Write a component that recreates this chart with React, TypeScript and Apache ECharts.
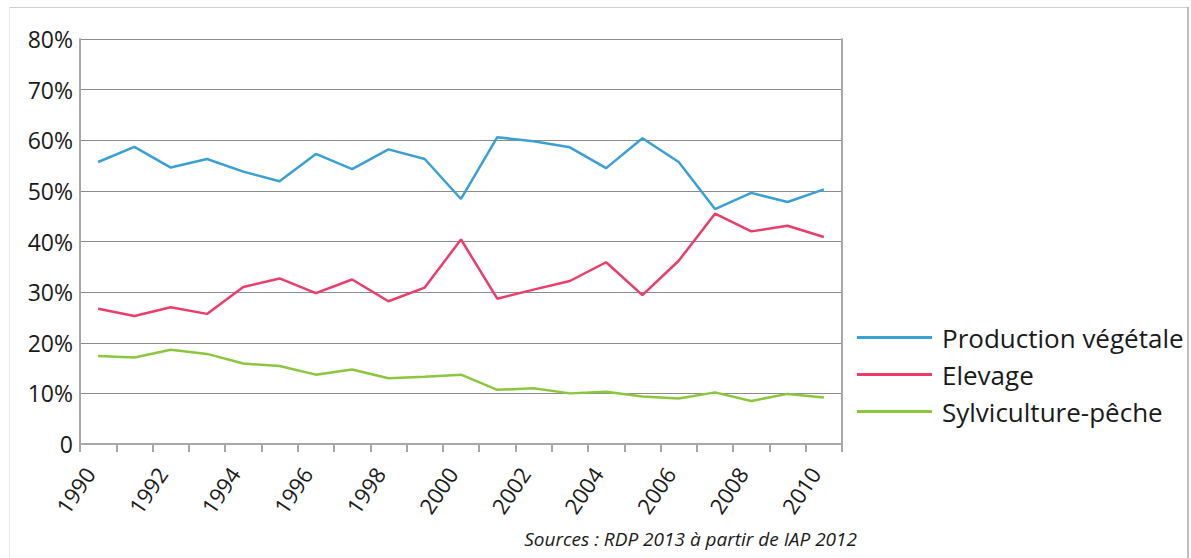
import React, { useEffect, useRef } from "react";
import * as echarts from "echarts";

const years = [
  "1990", "1991", "1992", "1993", "1994", "1995", "1996", "1997", "1998", "1999", "2000",
  "2001", "2002", "2003", "2004", "2005", "2006", "2007", "2008", "2009", "2010",
];
const productionVegetale = [
  55.7, 58.7, 54.6, 56.3, 53.8, 51.9, 57.3, 54.3, 58.2, 56.3, 48.4,
  60.6, 59.8, 58.6, 54.5, 60.4, 55.7, 46.4, 49.6, 47.8, 50.3,
];
const elevage = [
  26.7, 25.3, 27.0, 25.7, 31.0, 32.7, 29.8, 32.5, 28.2, 30.9, 40.4,
  28.7, 30.5, 32.2, 35.9, 29.4, 36.2, 45.5, 42.0, 43.1, 40.9,
];
const sylviculturePeche = [
  17.4, 17.1, 18.6, 17.8, 15.9, 15.4, 13.7, 14.7, 13.0, 13.3, 13.7,
  10.7, 11.0, 10.0, 10.3, 9.4, 9.0, 10.2, 8.5, 9.9, 9.2,
];
const seriesNames = ["Production végétale", "Elevage", "Sylviculture-pêche"];
const seriesColors = ["#3a9fd5", "#ea3d6a", "#8cc63f"];
const sourceText = "Sources : RDP 2013 à partir de IAP 2012";

const FONT = "'Open Sans', sans-serif";

export default function App() {
  const ref = useRef<HTMLDivElement>(null);
  useEffect(() => {
    if (!ref.current) return;
    const chart = echarts.init(ref.current, null, { renderer: "svg" });
    const data = [productionVegetale, elevage, sylviculturePeche];
    chart.setOption({
      animation: false,
      backgroundColor: "#ffffff",
      grid: { left: 80, top: 39, width: 762, height: 405, containLabel: false },
      legend: {
        orient: "vertical",
        left: 852,
        top: 318,
        icon: "rect",
        itemWidth: 75,
        itemHeight: 3,
        itemGap: 8,
        textStyle: {
          fontFamily: FONT,
          fontSize: 26,
          color: "#1a1a1a",
          lineHeight: 29,
          padding: [0, 0, 0, 5],
        },
        data: seriesNames,
      },
      xAxis: {
        type: "category",
        data: years,
        boundaryGap: true,
        axisLine: { show: true, lineStyle: { color: "#a8a8a8", width: 2 } },
        axisTick: { show: true, interval: 0, length: 8, lineStyle: { color: "#a8a8a8", width: 2 } },
        axisLabel: {
          interval: 1,
          rotate: 56,
          margin: 12,
          padding: [0, 16, 0, 0],
          fontFamily: FONT,
          fontSize: 22,
          color: "#1a1a1a",
        },
        splitLine: { show: false },
      },
      yAxis: [
        {
          type: "value",
          min: 0,
          max: 80,
          interval: 10,
          axisLine: { show: true, lineStyle: { color: "#a8a8a8", width: 2 } },
          axisTick: { show: false },
          axisLabel: {
            margin: 7,
            fontFamily: FONT,
            fontSize: 23,
            color: "#1a1a1a",
            formatter: (v: number) => (v === 0 ? "0" : `${v}%`),
          },
          splitLine: { show: true, lineStyle: { color: "#8c8c8c", width: 1.2 } },
        },
        {
          type: "value",
          position: "right",
          min: 0,
          max: 80,
          interval: 10,
          axisLine: { show: true, lineStyle: { color: "#a8a8a8", width: 2 } },
          axisTick: { show: false },
          axisLabel: { show: false },
          splitLine: { show: false },
        },
      ],
      series: seriesNames.map((name, i) => ({
        name,
        type: "line",
        data: data[i],
        yAxisIndex: 0,
        symbol: "none",
        lineStyle: { color: seriesColors[i], width: 2.5 },
        itemStyle: { color: seriesColors[i] },
      })),
      graphic: [
        { type: "line", shape: { x1: 9, y1: 7.5, x2: 1188, y2: 7.5 }, style: { stroke: "#cfcfcf", lineWidth: 1 } },
        { type: "line", shape: { x1: 9.5, y1: 7, x2: 9.5, y2: 558 }, style: { stroke: "#e6e6e6", lineWidth: 1 } },
        { type: "line", shape: { x1: 1188, y1: 7, x2: 1188, y2: 558 }, style: { stroke: "#bdbdbd", lineWidth: 2 } },
        {
          type: "text",
          right: 1191 - 857,
          top: 529,
          style: {
            text: sourceText,
            fontFamily: FONT,
            fontStyle: "italic",
            fontSize: 19,
            fill: "#1a1a1a",
          },
        },
      ],
    });
    return () => chart.dispose();
  }, []);
  return (
    <div
      ref={ref}
      style={{ position: "fixed", left: 0, top: 0, width: 1191, height: 558 }}
    />
  );
}
